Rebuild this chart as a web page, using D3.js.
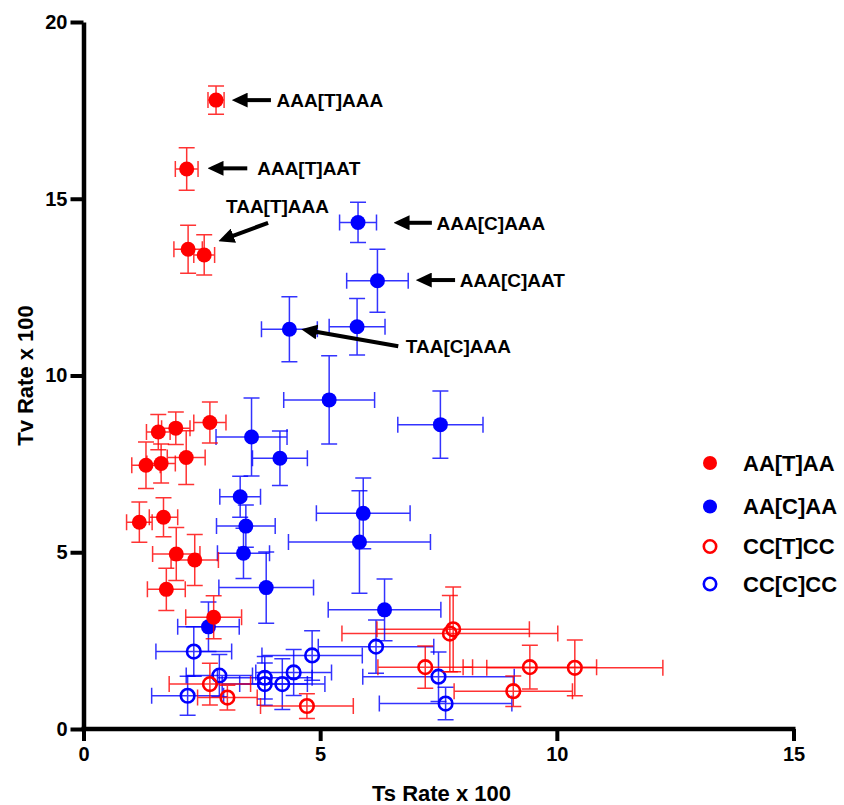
<!DOCTYPE html>
<html>
<head>
<meta charset="utf-8">
<script src="https://cdn.jsdelivr.net/npm/d3@7"></script>
<style>
  body { margin: 0; background: #fff; }
  text { font-family: "Liberation Sans", Arial, sans-serif; font-weight: bold; }
</style>
</head>
<body>
<div id="chart"></div>
<script>
const width = 710;
const height = 707;
const margin = { left: 83.5, right: 50.5, top: 22, bottom: 76 };

// [ts, tv, ts_err, tv_err]
const aa_t = [
  [2.80, 17.79, 0.17, 0.40], [2.18, 15.84, 0.24, 0.60], [2.21, 13.57, 0.30, 0.68],
  [2.55, 13.41, 0.22, 0.57], [2.67, 8.67, 0.34, 0.58], [1.58, 8.40, 0.25, 0.50],
  [1.95, 8.51, 0.30, 0.46], [1.32, 7.46, 0.30, 0.66], [1.64, 7.51, 0.30, 0.55],
  [2.17, 7.68, 0.40, 0.76], [1.18, 5.85, 0.27, 0.57], [1.69, 5.99, 0.30, 0.55],
  [1.96, 4.95, 0.50, 0.75], [2.35, 4.78, 0.50, 0.72], [1.75, 3.95, 0.40, 0.60],
  [2.75, 3.16, 0.59, 0.61]
];
const aa_c = [
  [5.80, 14.33, 0.39, 0.57], [6.21, 12.68, 0.65, 0.89], [4.35, 11.31, 0.59, 0.92],
  [5.78, 11.38, 0.59, 0.80], [5.19, 9.31, 0.96, 1.25], [7.54, 8.61, 0.90, 0.95],
  [3.55, 8.26, 0.75, 1.10], [4.15, 7.66, 0.58, 0.77], [3.31, 6.57, 0.43, 0.58],
  [3.43, 5.74, 0.62, 0.60], [3.38, 4.97, 0.55, 0.71], [3.86, 4.00, 1.00, 1.01],
  [5.91, 6.10, 0.99, 1.00], [5.83, 5.29, 1.50, 1.45], [6.36, 3.37, 1.19, 0.87],
  [2.64, 2.89, 0.65, 0.70]
];
const cc_t = [
  [2.67, 1.27, 0.86, 0.59], [3.04, 0.89, 0.63, 0.35], [4.72, 0.65, 0.98, 0.35],
  [7.22, 1.75, 1.00, 0.60], [7.81, 2.82, 1.61, 1.20], [7.74, 2.70, 2.28, 1.08],
  [9.43, 1.75, 1.41, 0.62], [10.38, 1.73, 1.86, 0.79], [9.08, 1.07, 1.25, 0.43]
];
const cc_c = [
  [2.33, 2.19, 0.80, 0.70], [2.87, 1.51, 0.70, 0.60], [2.20, 0.94, 0.76, 0.55],
  [3.83, 1.45, 1.00, 0.60], [3.83, 1.27, 0.90, 0.60], [4.20, 1.27, 0.90, 0.72],
  [4.44, 1.60, 0.80, 0.65], [4.83, 2.08, 1.06, 0.70], [6.18, 2.33, 1.22, 0.75],
  [7.50, 1.48, 1.60, 0.70], [7.65, 0.72, 1.40, 0.46]
];

const series = [
  { name: 'AA[T]AA', data: aa_t, color: '#ff0000', filled: true },
  { name: 'AA[C]AA', data: aa_c, color: '#0000ff', filled: true },
  { name: 'CC[T]CC', data: cc_t, color: '#ff0000', filled: false },
  { name: 'CC[C]CC', data: cc_c, color: '#0000ff', filled: false },
];
const draw_order = [3, 2, 1, 0];

// label, arrow tip [ts, tv], arrow tail [ts, tv], label anchor [ts, tv]
const notes = [
  ['AAA[T]AAA', [3.13, 17.79], [3.96, 17.79], [4.08, 17.79]],
  ['AAA[T]AAT', [2.62, 15.86], [3.46, 15.86], [3.67, 15.86]],
  ['TAA[T]AAA', [2.85, 13.80], [3.90, 14.32], [3.01, 14.78]],
  ['AAA[C]AAA', [6.55, 14.32], [7.36, 14.32], [7.46, 14.32]],
  ['AAA[C]AAT', [7.02, 12.70], [7.85, 12.70], [7.95, 12.70]],
  ['TAA[C]AAA', [4.60, 11.31], [6.65, 10.83], [6.81, 10.83]],
];

const x_ticks = [0, 5, 10, 15];
const y_ticks = [0, 5, 10, 15, 20];

const x_scale = d3.scaleLinear().domain([0, 15]).range([0, width]);
const y_scale = d3.scaleLinear().domain([0, 20]).range([height, 0]);

const root = d3.select('#chart')
  .append('svg')
    .attr('width', width + margin.left + margin.right)
    .attr('height', height + margin.top + margin.bottom);
const svg = root.append('g')
    .attr('transform', 'translate(' + margin.left + ',' + margin.top + ')');

const head_len = 16;
root.append('defs').append('marker')
    .attr('id', 'head')
    .attr('viewBox', '0 0 16 15')
    .attr('refX', 16 - 9)
    .attr('refY', 7.5)
    .attr('markerUnits', 'userSpaceOnUse')
    .attr('markerWidth', 16)
    .attr('markerHeight', 15)
    .attr('orient', 'auto')
  .append('path')
    .attr('d', 'M0,0 L16,7.5 L0,15 Z')
    .attr('fill', '#000');

// error bars + markers
const cap = 8;
draw_order.forEach(i => {
  const s = series[i];
  const g = svg.append('g').attr('class', 'series');
  const bars = g.append('g')
      .attr('stroke', s.color)
      .attr('stroke-width', 1.5)
      .attr('stroke-opacity', 0.8)
      .attr('fill', 'none');
  bars.selectAll('path')
      .data(s.data)
    .join('path')
      .attr('d', d => {
        const cx = x_scale(d[0]), cy = y_scale(d[1]);
        const x0 = x_scale(d[0] - d[2]), x1 = x_scale(d[0] + d[2]);
        const y0 = y_scale(d[1] - d[3]), y1 = y_scale(d[1] + d[3]);
        return 'M' + x0 + ',' + cy + 'H' + x1 +
          'M' + x0 + ',' + (cy - cap) + 'V' + (cy + cap) +
          'M' + x1 + ',' + (cy - cap) + 'V' + (cy + cap) +
          'M' + cx + ',' + y0 + 'V' + y1 +
          'M' + (cx - cap) + ',' + y0 + 'H' + (cx + cap) +
          'M' + (cx - cap) + ',' + y1 + 'H' + (cx + cap);
      });
  g.selectAll('circle')
      .data(s.data)
    .join('circle')
      .attr('cx', d => x_scale(d[0]))
      .attr('cy', d => y_scale(d[1]))
      .attr('r', s.filled ? 7.5 : 6.8)
      .attr('fill', s.filled ? s.color : 'none')
      .attr('stroke', s.color)
      .attr('stroke-width', s.filled ? 0 : 2.6);
});

// axes
const x_axis = svg.append('g')
    .attr('transform', 'translate(0,' + height + ')')
    .call(d3.axisBottom(x_scale).tickValues(x_ticks).tickSize(12).tickSizeOuter(0).tickPadding(6));
const y_axis = svg.append('g')
    .call(d3.axisLeft(y_scale).tickValues(y_ticks).tickSize(13).tickSizeOuter(0).tickPadding(3));
[x_axis, y_axis].forEach(a => {
  a.select('.domain').attr('stroke-width', 4.5).attr('stroke', '#000');
  a.selectAll('.tick line').attr('stroke-width', 4).attr('stroke', '#000');
  a.selectAll('.tick text')
      .attr('font-size', 20)
      .attr('font-family', '"Liberation Sans", Arial, sans-serif')
      .attr('font-weight', 'bold')
      .attr('fill', '#000');
});
x_axis.select('.domain').attr('d', 'M-2,0H' + (width + 2));

svg.append('text')
    .attr('x', width / 2 + 3)
    .attr('y', height + 72)
    .attr('text-anchor', 'middle')
    .attr('font-size', 22)
    .text('Ts Rate x 100');
svg.append('text')
    .attr('transform', 'translate(' + (-51) + ',' + (height / 2) + ') rotate(-90)')
    .attr('text-anchor', 'middle')
    .attr('font-size', 22)
    .text('Tv Rate x 100');

// annotations: shaft stops short of the tip, the marker head covers the rest
const ann = svg.append('g');
ann.selectAll('line')
    .data(notes)
  .join('line')
    .attr('x1', d => x_scale(d[2][0]))
    .attr('y1', d => y_scale(d[2][1]))
    .attr('x2', d => {
      const dx = x_scale(d[1][0]) - x_scale(d[2][0]), dy = y_scale(d[1][1]) - y_scale(d[2][1]);
      const len = Math.hypot(dx, dy);
      return x_scale(d[2][0]) + dx * (len - 9) / len;
    })
    .attr('y2', d => {
      const dx = x_scale(d[1][0]) - x_scale(d[2][0]), dy = y_scale(d[1][1]) - y_scale(d[2][1]);
      const len = Math.hypot(dx, dy);
      return y_scale(d[2][1]) + dy * (len - 9) / len;
    })
    .attr('stroke', '#000')
    .attr('stroke-width', 4)
    .attr('marker-end', 'url(#head)');
ann.selectAll('text')
    .data(notes)
  .join('text')
    .attr('x', d => x_scale(d[3][0]))
    .attr('y', d => y_scale(d[3][1]))
    .attr('dy', '0.36em')
    .attr('font-size', 19)
    .text(d => d[0]);

// legend
const legend = svg.append('g')
    .attr('transform', 'translate(' + (710 - margin.left) + ',' + (463 - margin.top) + ')');
const rows = legend.selectAll('g')
    .data(series)
  .join('g')
    .attr('transform', (d, i) => 'translate(0,' + [0, 43.5, 83.5, 121][i] + ')');
rows.append('circle')
    .attr('r', d => d.filled ? 7 : 6.2)
    .attr('fill', d => d.filled ? d.color : 'none')
    .attr('stroke', d => d.color)
    .attr('stroke-width', d => d.filled ? 0 : 2.6);
rows.append('text')
    .attr('x', 33)
    .attr('dy', '0.36em')
    .attr('font-size', 22)
    .text(d => d.name);
</script>
</body>
</html>
